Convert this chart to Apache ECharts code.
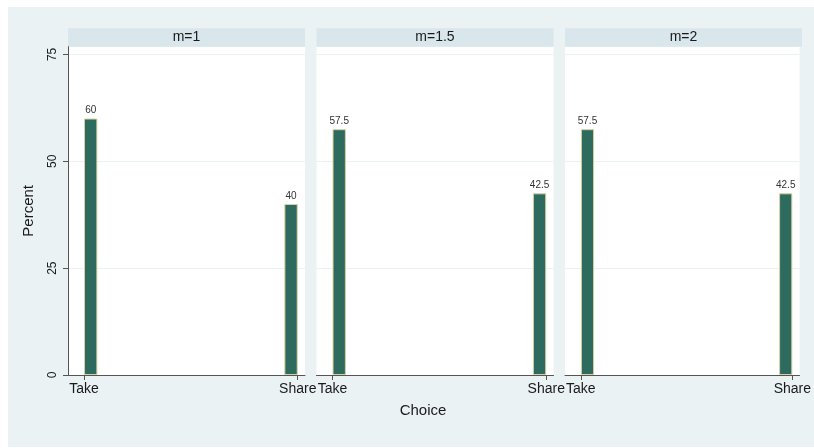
<!DOCTYPE html>
<html>
<head>
<meta charset="utf-8">
<script src="https://cdn.jsdelivr.net/npm/echarts@6/dist/echarts.min.js"></script>
<style>
  html, body { margin: 0; padding: 0; background: #ffffff; }
  #wrap { position: relative; width: 814px; height: 448px; background: #ffffff; }
  #bg { position: absolute; left: 8px; top: 7px; right: 0; bottom: 1px; background: #eaf2f3; }
  #chart { position: absolute; left: 0; top: 0; width: 814px; height: 448px; }
</style>
</head>
<body>
<div id="wrap"><div id="bg"></div><div id="chart"></div></div>
<script>
// Histogram of the Take/Share choice, one panel per multiplier m
const panels = ['m=1', 'm=1.5', 'm=2'];
const choices = ['Take', 'Share'];
const choiceCodes = [0, 1];
const percents = [
  [60, 40],
  [57.5, 42.5],
  [57.5, 42.5]
];
const yTicks = [0, 25, 50, 75];
const binCount = 16;            // histogram bins over [0, 1]
const yTitle = 'Percent';
const xTitle = 'Choice';

// layout
const plotLeft = 68, panelStep = 248.5, panelW = 237;
const plotTop = 46.7, plotBottom = 375, headerTop = 28.3;
const xMin = -0.075, xMax = 1.034, yMax = 76.8;

const barFill = '#2d6b5f';
const barEdge = '#d8d1a3';
const axisColor = '#555555';
const textColor = '#1a1a1a';
const font = '"Liberation Sans", Arial, sans-serif';

const binW = 1 / binCount;
// bin that each choice code falls in: [start, end]
function binOf(code) {
  let idx = Math.min(Math.floor(code / binW), binCount - 1);
  return [idx * binW, (idx + 1) * binW];
}

function renderBar(params, api) {
  const x0 = api.value(0), x1 = api.value(1), v = api.value(2);
  const p0 = api.coord([x0, 0]);
  const p1 = api.coord([x1, v]);
  return {
    type: 'group',
    children: [
      {
        type: 'rect',
        shape: { x: p0[0] + 0.5, y: p1[1] + 0.5, width: p1[0] - p0[0] - 1, height: p0[1] - p1[1] - 1 },
        style: { fill: barFill, stroke: barEdge, lineWidth: 1 }
      },
      {
        type: 'text',
        x: (p0[0] + p1[0]) / 2,
        y: p1[1] - 3,
        style: { text: String(v), fill: '#333333', font: '10px ' + font, align: 'center', verticalAlign: 'bottom' }
      }
    ]
  };
}

const grids = [], xAxes = [], yAxes = [], series = [], graphics = [];
panels.forEach(function (name, i) {
  const left = plotLeft + panelStep * i;
  grids.push({
    left: left, top: plotTop, width: panelW, height: plotBottom - plotTop,
    show: true, backgroundColor: '#ffffff', borderWidth: 0
  });
  xAxes.push({
    type: 'value', gridIndex: i, min: xMin, max: xMax,
    axisLine: { show: true, onZero: false, lineStyle: { color: axisColor, width: 1 } },
    axisTick: { show: true, length: 5, lineStyle: { color: axisColor }, customValues: choiceCodes },
    axisLabel: {
      show: true, customValues: choiceCodes, margin: 7,
      color: textColor, fontSize: 14, fontFamily: font,
      formatter: function (v) { return choices[choiceCodes.indexOf(v)]; }
    },
    splitLine: { show: false }
  });
  yAxes.push({
    type: 'value', gridIndex: i, min: 0, max: yMax, interval: 25,
    name: i === 0 ? yTitle : '', nameLocation: 'middle', nameRotate: 90, nameGap: 32,
    nameTextStyle: { color: textColor, fontSize: 15, fontFamily: font },
    axisLine: { show: i === 0, onZero: false, lineStyle: { color: axisColor, width: 1 } },
    axisTick: { show: i === 0, length: 5, lineStyle: { color: axisColor }, customValues: yTicks },
    axisLabel: {
      show: i === 0, customValues: yTicks, rotate: 90, margin: 9,
      color: textColor, fontSize: 12, fontFamily: font
    },
    splitLine: { show: true, lineStyle: { color: '#eaf2f3', width: 1 } }
  });
  const data = choiceCodes.map(function (code, k) {
    const b = binOf(code);
    return [b[0], b[1], percents[i][k]];
  });
  series.push({
    type: 'custom', xAxisIndex: i, yAxisIndex: i,
    renderItem: renderBar, encode: { x: [0, 1], y: 2 },
    data: data, clip: false, silent: true
  });
  // panel header strip
  graphics.push({
    type: 'rect', left: left, top: headerTop,
    shape: { width: panelW, height: plotTop - headerTop },
    style: { fill: '#d9e6eb' }
  });
  graphics.push({
    type: 'text', x: left + panelW / 2, y: (headerTop + plotTop) / 2,
    style: { text: name, fill: textColor, font: '14px ' + font, align: 'center', verticalAlign: 'middle' }
  });
});

graphics.push({
  type: 'text', x: 423, y: 411,
  style: { text: xTitle, fill: textColor, font: '15px ' + font, align: 'center', verticalAlign: 'middle' }
});

const chart = echarts.init(document.getElementById('chart'), null, { renderer: 'canvas' });
chart.setOption({
  backgroundColor: 'transparent',
  animation: false,
  grid: grids,
  xAxis: xAxes,
  yAxis: yAxes,
  series: series,
  graphic: graphics
});
</script>
</body>
</html>
